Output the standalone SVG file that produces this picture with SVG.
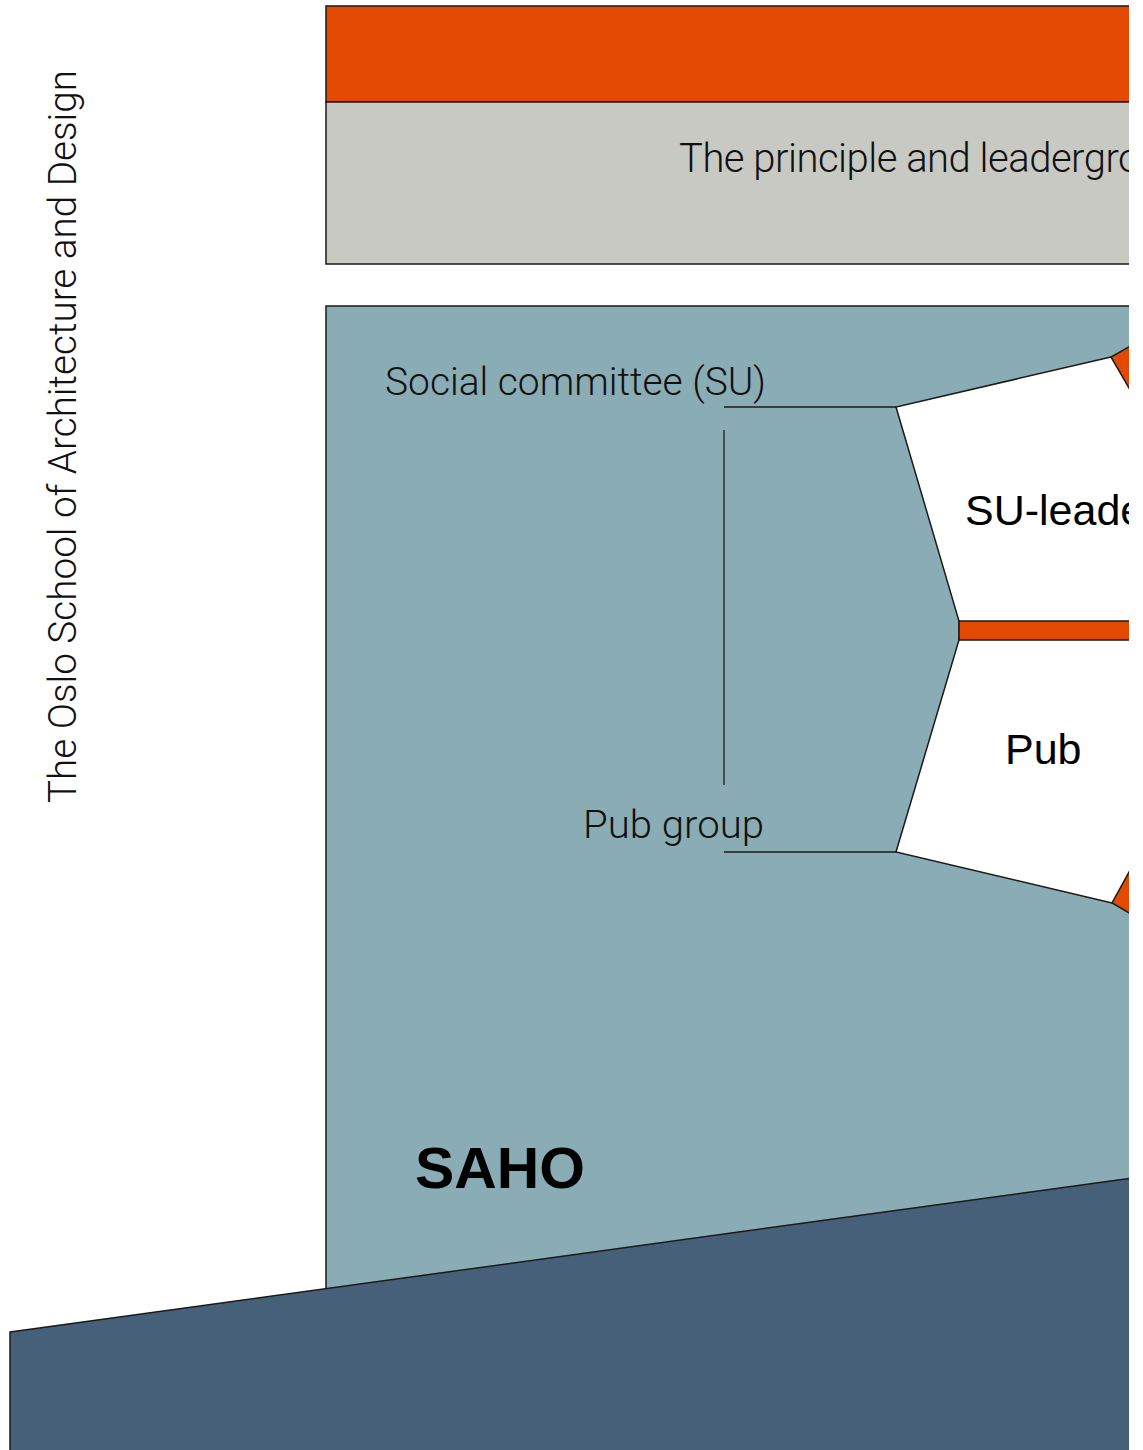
<svg xmlns="http://www.w3.org/2000/svg" width="1143" height="1450" viewBox="0 0 1143 1450">
<defs>
<clipPath id="crop"><rect x="0" y="0" width="1129" height="1450"/></clipPath>
<style>
.edge{stroke:#1a1a1a;stroke-width:1.5;stroke-linejoin:miter}
.thin{fill:none;stroke:#1a1a1a;stroke-width:1.3}
.light{font-family:Roboto,Inter,"Liberation Sans",sans-serif;font-weight:300;fill:#111}
.reg{font-family:"Liberation Sans",Arial,sans-serif;fill:#000}
.orange{fill:#E34A00}
</style>
</defs>
<rect width="1143" height="1450" fill="#fff"/>
<g clip-path="url(#crop)">
<g id="header">
<rect x="326" y="6" width="830" height="96" class="orange edge"/>
</g>
<g id="principle">
<rect x="326" y="102" width="830" height="162" fill="#C8C9C3" class="edge"/>
<text x="679" y="172" font-size="40" letter-spacing="-0.5" class="light">The principle and leadergroup</text>
</g>
<g id="saho">
<rect x="326" y="306" width="830" height="1060" fill="#8AACB5" class="edge"/>
<text x="415" y="1188" font-size="58" font-weight="bold" class="reg" textLength="170" lengthAdjust="spacingAndGlyphs">SAHO</text>
</g>
<g id="social-committee">
<text x="385" y="395" font-size="38" class="light" textLength="381" lengthAdjust="spacingAndGlyphs">Social committee (SU)</text>
</g>
<g id="pub-group">
<text x="583" y="838" font-size="38" class="light" textLength="181" lengthAdjust="spacingAndGlyphs">Pub group</text>
</g>
<g id="core">
<polygon points="1111,357 896,407 959,621 959,640 896,852 1112,903 1160,903 1160,357" fill="#fff" class="edge"/>
<polygon points="1150,335 1111,357 1150,424" class="orange edge"/>
<polygon points="1150,834 1112,903 1150,925" class="orange edge"/>
</g>
<g id="su-leader">
<text x="965" y="525" font-size="43" class="reg">SU-leader</text>
</g>
<g id="divider">
<rect x="959" y="621" width="200" height="19" class="orange edge"/>
</g>
<g id="pub">
<text x="1005" y="764" font-size="43" class="reg">Pub</text>
</g>
<g id="base">
<polygon points="10,1332 1140,1177 1140,1460 10,1460" fill="#466079" class="edge"/>
</g>
</g>
<g id="connectors">
<polyline points="724,407 896,407" class="thin"/>
<line x1="724" y1="430" x2="724" y2="785" class="thin"/>
<polyline points="724,852 896,852" class="thin"/>
</g>
<g id="school">
<text transform="translate(76,803) rotate(-90)" font-size="39" class="light" textLength="733" lengthAdjust="spacingAndGlyphs">The Oslo School of Architecture and Design</text>
</g>
</svg>
